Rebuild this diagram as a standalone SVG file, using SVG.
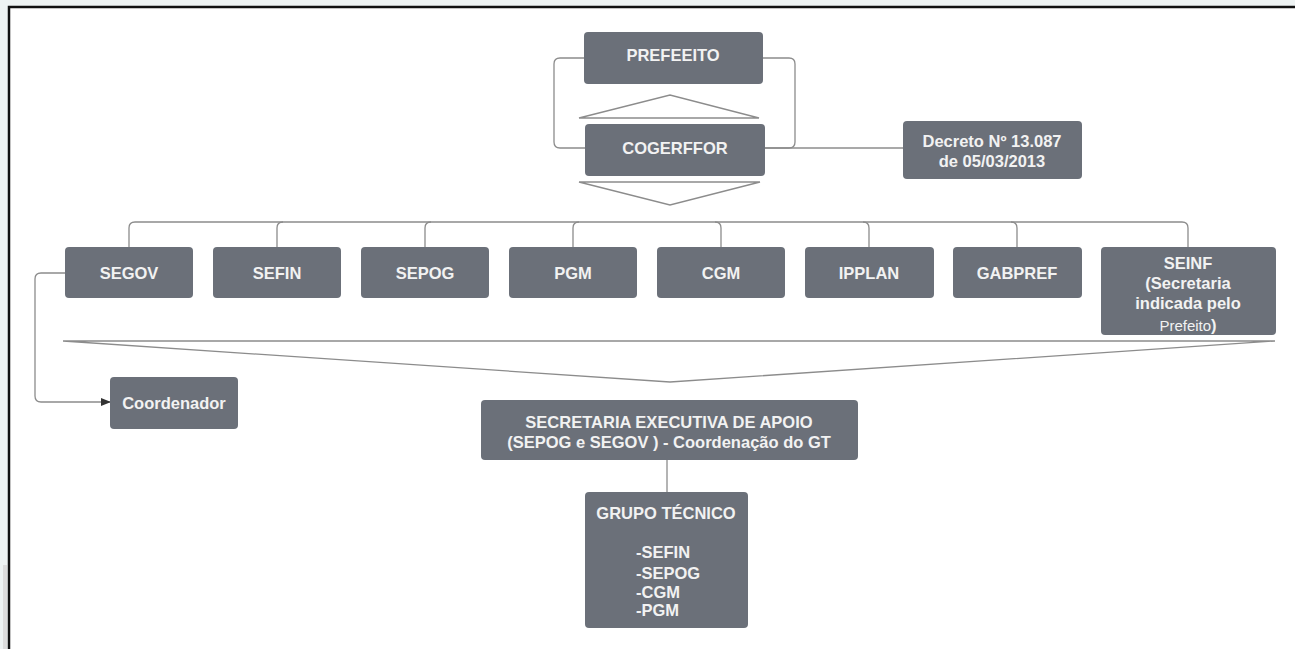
<svg xmlns="http://www.w3.org/2000/svg" width="1295" height="649" viewBox="0 0 1295 649">
<defs>
<style>
.box{fill:#6b7079;}
.t{font-family:"Liberation Sans",Arial,sans-serif;font-weight:bold;font-size:16.5px;fill:#f2f2f2;text-anchor:middle;}
.tl{font-family:"Liberation Sans",Arial,sans-serif;font-weight:bold;font-size:16.5px;fill:#f2f2f2;}
.c{fill:none;stroke:#8c8c8c;stroke-width:1.3;}
</style>
<marker id="arr" markerWidth="10" markerHeight="8" refX="9" refY="4" orient="auto" markerUnits="userSpaceOnUse">
<path d="M0,0 L10,4 L0,8 Z" fill="#333"/>
</marker>
</defs>
<rect x="0" y="0" width="1295" height="649" fill="#eef3f3"/>
<rect x="9" y="7" width="1286" height="642" fill="#ffffff"/>
<rect x="3" y="565" width="4" height="84" fill="#dcdcdc"/>
<path d="M9,649 V7 H1295" fill="none" stroke="#111" stroke-width="2.5"/>

<g id="connectors">
<path class="c" d="M584,58 H560 Q554,58 554,64 V142 Q554,148 560,148 H585"/>
<path class="c" d="M763,58 H789 Q795,58 795,64 V142 Q795,148 789,148 H765"/>
<path class="c" d="M765,148 H903"/>
<polygon class="c" points="579,118 670,95 759,118"/>
<polygon class="c" points="579,182 670,205 760,182"/>
<path class="c" d="M129,247 V228 Q129,222 135,222 H1182 Q1188,222 1188,228 V247"/>
<path class="c" d="M277,247 V228 Q277,222 283,222"/>
<path class="c" d="M425,247 V228 Q425,222 431,222"/>
<path class="c" d="M573,247 V228 Q573,222 579,222"/>
<path class="c" d="M721,247 V228 Q721,222 715,222"/>
<path class="c" d="M869,247 V228 Q869,222 863,222"/>
<path class="c" d="M1017,247 V228 Q1017,222 1011,222"/>
<polygon class="c" points="63,341 1275,341 670,382"/>
<path class="c" d="M65,273 H41 Q35,273 35,279 V396 Q35,402 41,402 H110" marker-end="url(#arr)"/>
<path class="c" d="M667,460 V492"/>
</g>

<g id="prefeeito"><rect class="box" x="584" y="32" width="179" height="52" rx="4"/><text class="t" x="673" y="61">PREFEEITO</text></g>
<g id="cogerffor"><rect class="box" x="585" y="124" width="180" height="52" rx="4"/><text class="t" x="675" y="154">COGERFFOR</text></g>
<g id="decreto"><rect class="box" x="903" y="121" width="179" height="58" rx="4"/><text class="t" x="992" y="147">Decreto Nº 13.087</text><text class="t" x="992" y="167">de 05/03/2013</text></g>

<g id="segov"><rect class="box" x="65" y="247" width="128" height="51" rx="4"/><text class="t" x="129" y="279">SEGOV</text></g>
<g id="sefin"><rect class="box" x="213" y="247" width="128" height="51" rx="4"/><text class="t" x="277" y="279">SEFIN</text></g>
<g id="sepog"><rect class="box" x="361" y="247" width="128" height="51" rx="4"/><text class="t" x="425" y="279">SEPOG</text></g>
<g id="pgm"><rect class="box" x="509" y="247" width="128" height="51" rx="4"/><text class="t" x="573" y="279">PGM</text></g>
<g id="cgm"><rect class="box" x="657" y="247" width="128" height="51" rx="4"/><text class="t" x="721" y="279">CGM</text></g>
<g id="ipplan"><rect class="box" x="805" y="247" width="129" height="51" rx="4"/><text class="t" x="869" y="279">IPPLAN</text></g>
<g id="gabpref"><rect class="box" x="953" y="247" width="129" height="51" rx="4"/><text class="t" x="1017" y="279">GABPREF</text></g>
<g id="seinf"><rect class="box" x="1101" y="247" width="175" height="88" rx="4"/>
<text class="t" x="1188" y="269">SEINF</text>
<text class="t" x="1188" y="289">(Secretaria</text>
<text class="t" x="1188" y="309">indicada pelo</text>
<text class="t" x="1188" y="331"><tspan font-weight="normal" font-size="15">Prefeito</tspan>)</text></g>

<g id="coordenador"><rect class="box" x="110" y="377" width="128" height="52" rx="4"/><text class="t" x="174" y="409">Coordenador</text></g>

<g id="secretaria"><rect class="box" x="481" y="400" width="377" height="60" rx="4"/>
<text class="t" x="669" y="428">SECRETARIA EXECUTIVA DE APOIO</text>
<text class="t" x="669" y="448">(SEPOG e  SEGOV ) - Coordenação do GT</text></g>

<g id="grupo"><rect class="box" x="585" y="492" width="163" height="136" rx="4"/>
<text class="t" x="666" y="519">GRUPO TÉCNICO</text>
<text class="tl" x="636" y="558">-SEFIN</text>
<text class="tl" x="636" y="579">-SEPOG</text>
<text class="tl" x="636" y="598">-CGM</text>
<text class="tl" x="636" y="616">-PGM</text></g>
</svg>
